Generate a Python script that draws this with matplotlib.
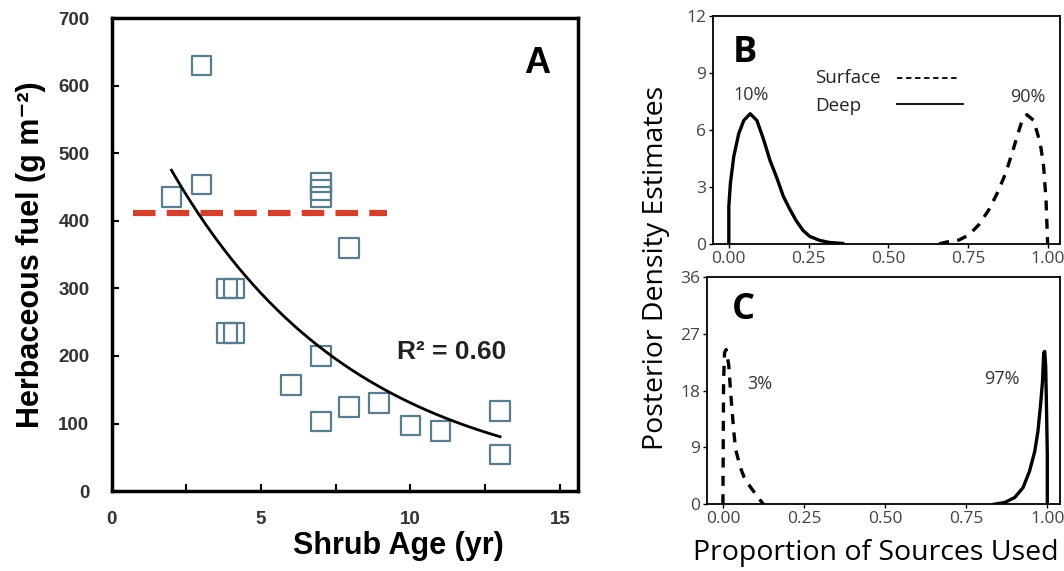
import matplotlib
matplotlib.use("Agg")
import matplotlib.pyplot as plt
import numpy as np

# ---- panel A data: herbaceous fuel vs shrub age
shrub_age = np.array([2, 3, 3, 3.85, 4.1, 3.85, 4.1, 7, 7, 7, 7.95, 7, 6, 7, 7.95, 8.95, 10, 11, 13, 13])
herb_fuel = np.array([435, 630, 454, 300, 300, 234, 234, 457, 446, 435, 360, 200, 157, 103, 124, 130, 97, 89, 119, 54])
mean_line_x = [0.7, 9.2]
mean_line_y = 412
r2_text = 'R² = 0.60'

# ---- panel B data: posterior densities
b_deep_x = [0.0, 0.0, 0.005, 0.0155, 0.031, 0.047, 0.067, 0.088, 0.109, 0.129, 0.150, 0.171,
            0.192, 0.212, 0.233, 0.254, 0.285, 0.316, 0.357]
b_deep_y = [0.0, 1.96, 3.2, 4.6, 5.8, 6.5, 6.85, 6.5, 5.5, 4.4, 3.5, 2.5,
            1.8, 1.2, 0.7, 0.39, 0.18, 0.07, 0.02]
b_surf_x = [0.66, 0.685, 0.722, 0.753, 0.784, 0.816, 0.842, 0.868, 0.889, 0.904, 0.92, 0.935,
            0.956, 0.977, 0.9875, 0.995, 1.0]
b_surf_y = [0.0, 0.1, 0.2, 0.47, 1.0, 1.8, 2.67, 3.7, 4.8, 5.65, 6.5, 6.8,
            6.5, 5.3, 4.07, 2.3, 0.0]

# ---- panel C data
c_surf_x = [0.0, 0.002, 0.005, 0.01, 0.018, 0.023, 0.028, 0.033, 0.039, 0.054, 0.065, 0.085, 0.117, 0.125]
c_surf_y = [0.0, 19.4, 24.0, 24.5, 22.0, 18.3, 15.0, 11.8, 8.7, 5.8, 4.3, 2.7, 0.5, 0.0]
c_deep_x = [0.837, 0.868, 0.899, 0.925, 0.945, 0.961, 0.971, 0.979, 0.985, 0.989, 0.992, 0.995, 0.998, 1.0, 1.0]
c_deep_y = [0.0, 0.26, 1.04, 2.6, 5.2, 8.3, 11.5, 15.6, 19.3, 24.0, 24.2, 21.9, 14.0, 8.0, 0.0]

fig = plt.figure(figsize=(10.64, 5.71), dpi=100)

# ================= panel A =================
fa = ['Liberation Sans', 'DejaVu Sans']
ax = fig.add_axes([0.105, 0.140, 0.438, 0.828])
ax.scatter(shrub_age, herb_fuel, marker='s', s=200, facecolors='none',
           edgecolors='#5a7d8c', linewidths=1.6, zorder=3)
ax.plot(mean_line_x, [mean_line_y, mean_line_y], color='#d2412e', lw=4.5,
        dashes=(3.6, 1.8), zorder=2)

# exponential fit from the data
b, lna = np.polyfit(shrub_age, np.log(herb_fuel), 1)
xf = np.linspace(shrub_age.min(), shrub_age.max(), 200)
ax.plot(xf, np.exp(lna) * np.exp(b * xf), color='black', lw=2, zorder=4)

ax.set_xlim(0, 15.6)
ax.set_ylim(0, 700)
ax.set_xticks([0, 5, 10, 15])
ax.set_xticks([2.5, 7.5, 12.5], minor=True)
ax.set_yticks(range(0, 701, 100))
for s in ax.spines.values():
    s.set_linewidth(2.5)
ax.tick_params(axis='x', direction='in', length=5, width=1.5, pad=14)
ax.tick_params(axis='x', which='minor', direction='in', length=5, width=1.5)
ax.tick_params(axis='y', direction='in', length=5, width=1.5, pad=16)
for lab in ax.get_xticklabels() + ax.get_yticklabels():
    lab.set_fontfamily(fa)
    lab.set_fontweight('bold')
    lab.set_fontsize(13.5)
    lab.set_color('#333333')
ax.set_xlabel('Shrub Age (yr)', family=fa, fontweight='bold', fontsize=22)
ax.xaxis.set_label_coords(0.615, -0.085)
ax.set_ylabel('Herbaceous fuel (g m⁻²)', family=fa, fontweight='bold', fontsize=22)
ax.yaxis.set_label_coords(-0.14, 0.5)
ax.text(0.912, 0.905, 'A', transform=ax.transAxes, family=fa, fontweight='bold',
        fontsize=26, ha='center', va='center')
ax.text(0.73, 0.294, r2_text, transform=ax.transAxes, family=fa, fontweight='bold',
        fontsize=19, ha='center', va='center', color='#222222')

# ================= panels B, C =================
fb = ['Open Sans', 'DejaVu Sans']
axb = fig.add_axes([0.670, 0.573, 0.326, 0.399])
axc = fig.add_axes([0.6645, 0.117, 0.332, 0.398])

axb.plot(b_deep_x, b_deep_y, color='black', lw=2.4, solid_joinstyle='round')
axb.plot(b_surf_x, b_surf_y, color='black', lw=2.4, dashes=(3, 2.5))
axb.set_xlim(-0.05, 1.038)
axb.set_ylim(0, 12)
axb.set_yticks([0, 3, 6, 9, 12])

axc.plot(c_surf_x, c_surf_y, color='black', lw=2.4, dashes=(3, 2.5))
axc.plot(c_deep_x, c_deep_y, color='black', lw=2.4)
axc.set_xlim(-0.049, 1.04)
axc.set_ylim(0, 36)
axc.set_yticks([0, 9, 18, 27, 36])

for a in (axb, axc):
    a.set_xticks([0, 0.25, 0.5, 0.75, 1.0])
    a.set_xticklabels(['0.00', '0.25', '0.50', '0.75', '1.00'])
    for s in a.spines.values():
        s.set_linewidth(1.3)
    a.tick_params(direction='out', length=3, width=1, pad=2, labelsize=12.5,
                  labelcolor='#444444')
    for lab in a.get_xticklabels() + a.get_yticklabels():
        lab.set_fontfamily(fb)

axb.text(0.05, 10.05, 'B', family=fb, fontweight='bold', fontsize=26,
         ha='center', va='center')
axb.text(0.069, 7.84, '10%', family=fb, fontsize=13, color='#333333', ha='center', va='center')
axb.text(0.937, 7.74, '90%', family=fb, fontsize=13, color='#333333', ha='center', va='center')
axb.text(0.27, 8.74, 'Surface', family=fb, fontsize=13.5, color='#222222', ha='left', va='center')
axb.text(0.27, 7.26, 'Deep', family=fb, fontsize=13.5, color='#222222', ha='left', va='center')
axb.plot([0.527, 0.724], [8.74, 8.74], color='black', lw=1.3, dashes=(3, 2))
axb.plot([0.527, 0.734], [7.37, 7.37], color='black', lw=1.3)

axc.text(0.062, 30.8, 'C', family=fb, fontweight='bold', fontsize=26,
         ha='center', va='center')
axc.text(0.114, 19.1, '3%', family=fb, fontsize=13, color='#333333', ha='center', va='center')
axc.text(0.861, 19.8, '97%', family=fb, fontsize=13, color='#333333', ha='center', va='center')

fig.text(0.617, 0.531, 'Posterior Density Estimates', family=fb, fontsize=20.5,
         rotation=90, ha='center', va='center')
fig.text(0.823, 0.032, 'Proportion of Sources Used', family=fb, fontsize=20.5,
         ha='center', va='center')

fig.savefig('out.png', dpi=100)
